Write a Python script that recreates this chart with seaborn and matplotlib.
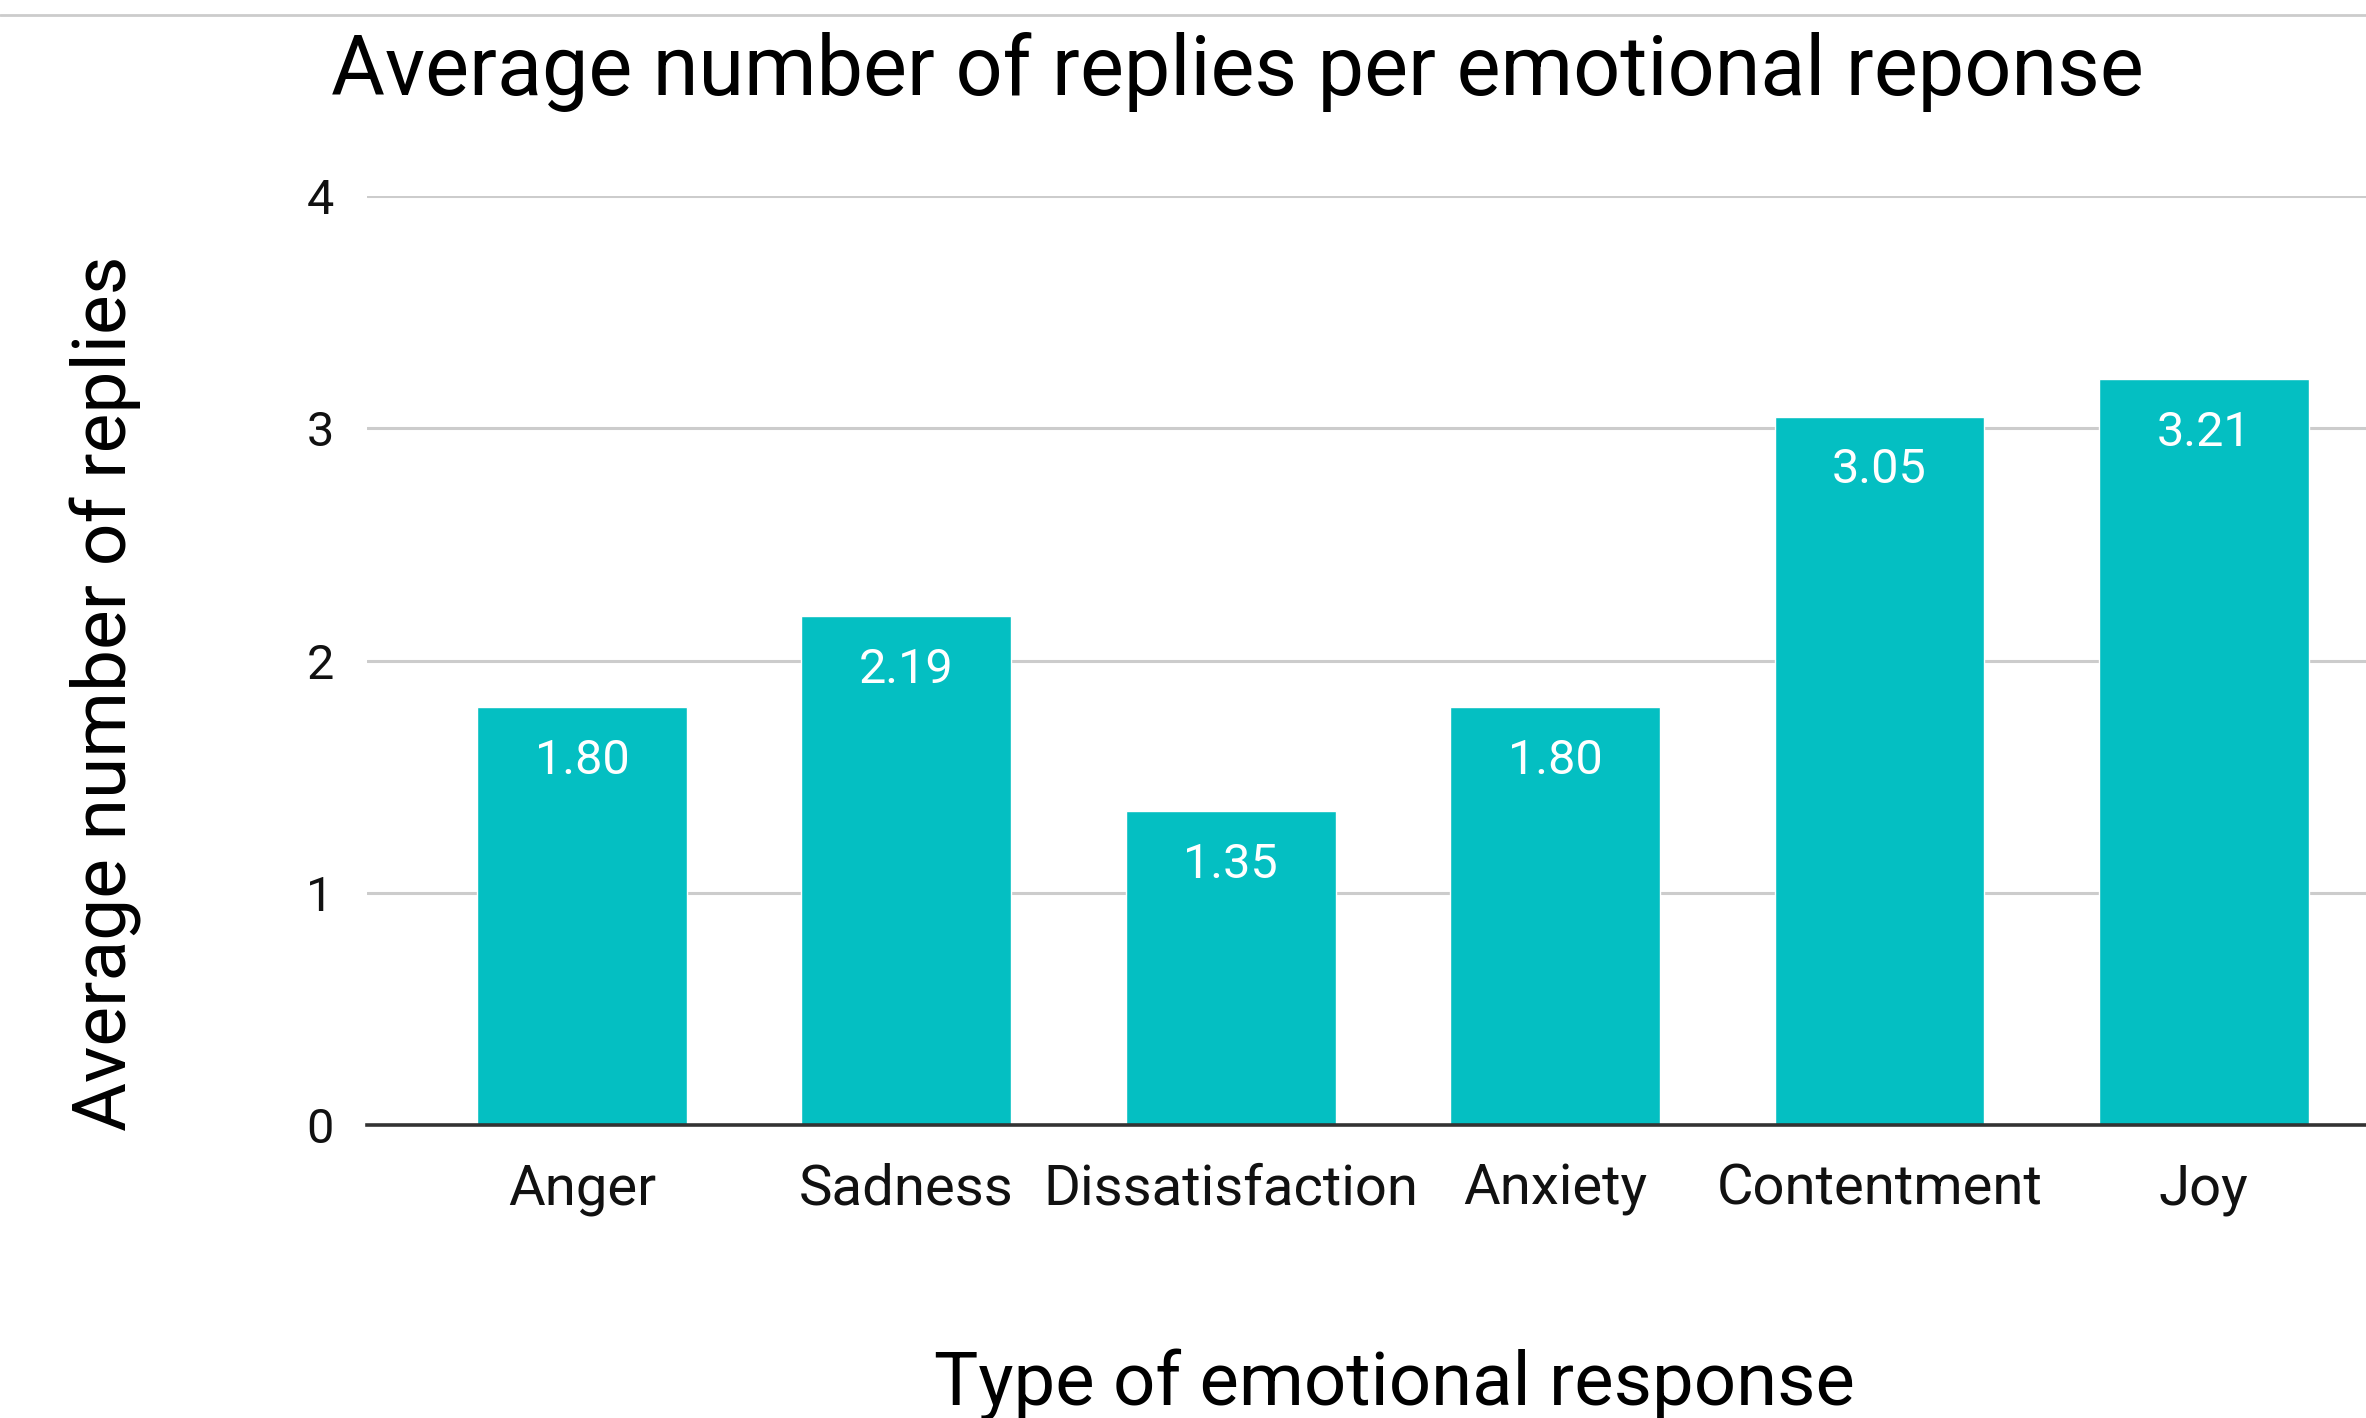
import matplotlib
matplotlib.use("Agg")
import matplotlib.pyplot as plt
import numpy as np
import pandas as pd
import seaborn as sns
from matplotlib.lines import Line2D

# data
emotions = ["Anger", "Sadness", "Dissatisfaction", "Anxiety", "Contentment", "Joy"]
avg_replies = [1.80, 2.19, 1.35, 1.80, 3.05, 3.21]
y_ticks = [0, 1, 2, 3, 4]

df = pd.DataFrame({"emotion": emotions, "replies": avg_replies})

sns.set_theme(style="white")
plt.rcParams["font.family"] = ["Roboto", "DejaVu Sans"]

bar_color = "#04BFC2"

fig = plt.figure(figsize=(23.66, 14.18), dpi=100)
ax = fig.add_axes([0.1551, 0.2066, 0.8449, 0.6552])

sns.barplot(data=df, x="emotion", y="replies", color=bar_color,
            width=0.647, saturation=1, ax=ax, zorder=3)

ax.set_xlim(-0.663, 5.5)
ax.set_ylim(0, 4)
ax.set_yticks(y_ticks)
ax.set_yticklabels([str(t) for t in y_ticks])
ax.yaxis.grid(True, color="#cccccc", linewidth=2.2, zorder=0)
ax.xaxis.grid(False)
ax.set_axisbelow(True)

for side in ["top", "right", "left"]:
    ax.spines[side].set_visible(False)
ax.spines["bottom"].set_color("#333333")
ax.spines["bottom"].set_linewidth(2.6)
ax.spines["bottom"].set_zorder(4)

ax.tick_params(axis="y", length=0, pad=24, labelsize=35, labelcolor="#111111")
ax.tick_params(axis="x", length=0, pad=27, labelsize=40.5, labelcolor="#111111")
ax.set_xlabel("")
ax.set_ylabel("")

# value labels inside the top of each bar
for i, v in enumerate(avg_replies):
    ax.annotate(f"{v:.2f}", xy=(i, v), xytext=(0, -22), textcoords="offset points",
                ha="center", va="top", color="white", fontsize=35, zorder=5)

fig.text(0.5228, 0.933, "Average number of replies per emotional reponse",
         ha="center", va="baseline", fontsize=59.6, color="#000000")
fig.text(0.5895, 0.0092, "Type of emotional response",
         ha="center", va="baseline", fontsize=53.5, color="#000000")
fig.text(0.045, 0.511, "Average number of replies", rotation=90,
         ha="center", va="center", fontsize=54, color="#000000")

# thin border line at the very top of the screenshot
fig.add_artist(Line2D([0, 1], [1 - 15 / 1418, 1 - 15 / 1418],
                      color="#cccccc", linewidth=2, transform=fig.transFigure))

fig.savefig("out.png", dpi=100, facecolor="white")
